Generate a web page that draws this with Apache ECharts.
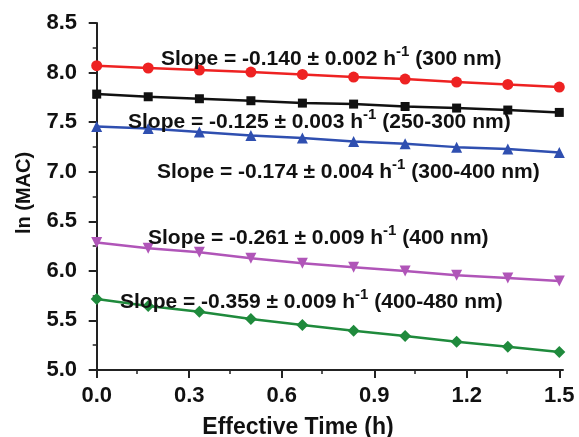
<!DOCTYPE html>
<html>
<head>
<meta charset="utf-8">
<script src="https://cdn.jsdelivr.net/npm/echarts@6/dist/echarts.min.js"></script>
<style>html,body{margin:0;padding:0;background:#fff;}#c{width:579px;height:437px;}</style>
</head>
<body>
<div id="c"></div>
<script>
var time = [0, 0.167, 0.333, 0.5, 0.667, 0.833, 1.0, 1.167, 1.333, 1.5];
var red300 = [8.07, 8.046, 8.025, 8.005, 7.981, 7.955, 7.935, 7.904, 7.880, 7.854];
var black250_300 = [7.783, 7.756, 7.736, 7.716, 7.692, 7.682, 7.658, 7.642, 7.622, 7.598];
var blue300_400 = [7.455, 7.436, 7.400, 7.365, 7.339, 7.305, 7.282, 7.248, 7.228, 7.194];
var magenta400 = [6.285, 6.228, 6.188, 6.127, 6.077, 6.037, 5.999, 5.956, 5.929, 5.898];
var green400_480 = [5.717, 5.646, 5.588, 5.514, 5.454, 5.396, 5.343, 5.285, 5.235, 5.181];
var xTicks = [0.0, 0.3, 0.6, 0.9, 1.2, 1.5];
var yTicks = [5.0, 5.5, 6.0, 6.5, 7.0, 7.5, 8.0, 8.5];
var labels = [
  {slope: '-0.140', err: '0.002', band: '(300 nm)'},
  {slope: '-0.125', err: '0.003', band: '(250-300 nm)'},
  {slope: '-0.174', err: '0.004', band: '(300-400 nm)'},
  {slope: '-0.261', err: '0.009', band: '(400 nm)'},
  {slope: '-0.359', err: '0.009', band: '(400-480 nm)'}
];

function pairs(ys) { return time.map(function (t, i) { return [t, ys[i]]; }); }

var FONT = '"Liberation Sans", Arial, sans-serif';
var chart = echarts.init(document.getElementById('c'), null, {renderer: 'canvas'});

function mkSeries(ys, color, symbol, size, rot) {
  return {
    type: 'line', data: pairs(ys), symbol: symbol, symbolSize: size, symbolRotate: rot || 0,
    showAllSymbol: true,
    lineStyle: {color: color, width: 2.5},
    itemStyle: {color: color, borderWidth: 0},
    emphasis: {disabled: true}, animation: false
  };
}

var textPos = [[161, 57], [128, 120], [157, 170], [148, 236], [120, 300]];
var graphics = labels.map(function (l, i) {
  return {
    type: 'text', left: textPos[i][0], top: textPos[i][1] - 13,
    style: {
      text: '{a|Slope = ' + l.slope + ' \u00b1 ' + l.err + ' h}{s|-1}{a| ' + l.band + '}',
      rich: {
        a: {fontFamily: FONT, fontWeight: 'bold', fontSize: 21, fill: '#111', color: '#111', lineHeight: 26, verticalAlign: 'bottom'},
        s: {fontFamily: FONT, fontWeight: 'bold', fontSize: 15, fill: '#111', color: '#111', lineHeight: 26, verticalAlign: 'top'}
      }
    },
    z: 100
  };
});

chart.setOption({
  animation: false,
  backgroundColor: '#fff',
  grid: {left: 91, right: 16, top: 23, bottom: 67, containLabel: false, outerBoundsMode: 'none'},
  xAxis: {
    type: 'value', min: -0.0185, max: 1.512,
    name: 'Effective Time (h)', nameLocation: 'middle', nameGap: 46,
    nameTextStyle: {fontFamily: FONT, fontWeight: 'bold', fontSize: 23, color: '#111', padding: [0, 58, 0, 0]},
    axisLine: {show: true, onZero: false, lineStyle: {color: '#222', width: 2}},
    axisTick: {show: true, inside: false, length: 8, lineStyle: {color: '#222', width: 2},
      customValues: xTicks},
    minorTick: {show: true, splitNumber: 2, length: 4, lineStyle: {color: '#222', width: 1.5}},
    axisLabel: {show: true, margin: 15, fontFamily: FONT, fontWeight: 'bold', fontSize: 22, color: '#111',
      customValues: xTicks, formatter: function (v) { return v.toFixed(1); }},
    splitLine: {show: false}, minorSplitLine: {show: false},
    interval: 0.3
  },
  yAxis: {
    type: 'value', min: 5.0, max: 8.5, interval: 0.5,
    name: 'ln (MAC)', nameLocation: 'middle', nameGap: 57, nameRotate: 90,
    nameTextStyle: {fontFamily: FONT, fontWeight: 'bold', fontSize: 20, color: '#111', padding: [0, 0, 0, 7]},
    axisLine: {show: true, lineStyle: {color: '#222', width: 2}},
    axisTick: {show: true, inside: false, length: 8, lineStyle: {color: '#222', width: 2}},
    minorTick: {show: true, splitNumber: 2, length: 4, lineStyle: {color: '#222', width: 1.5}},
    axisLabel: {show: true, margin: 14, fontFamily: FONT, fontWeight: 'bold', fontSize: 22, color: '#111',
      formatter: function (v) { return v.toFixed(1); }},
    splitLine: {show: false}, minorSplitLine: {show: false}
  },
  series: [
    mkSeries(red300, '#ee2222', 'circle', 11),
    mkSeries(black250_300, '#111111', 'rect', 9),
    mkSeries(blue300_400, '#2f4fb0', 'triangle', 11),
    mkSeries(magenta400, '#b055b8', 'triangle', 11, 180),
    mkSeries(green400_480, '#1f8a3c', 'diamond', 12)
  ],
  graphic: graphics
});
</script>
</body>
</html>
